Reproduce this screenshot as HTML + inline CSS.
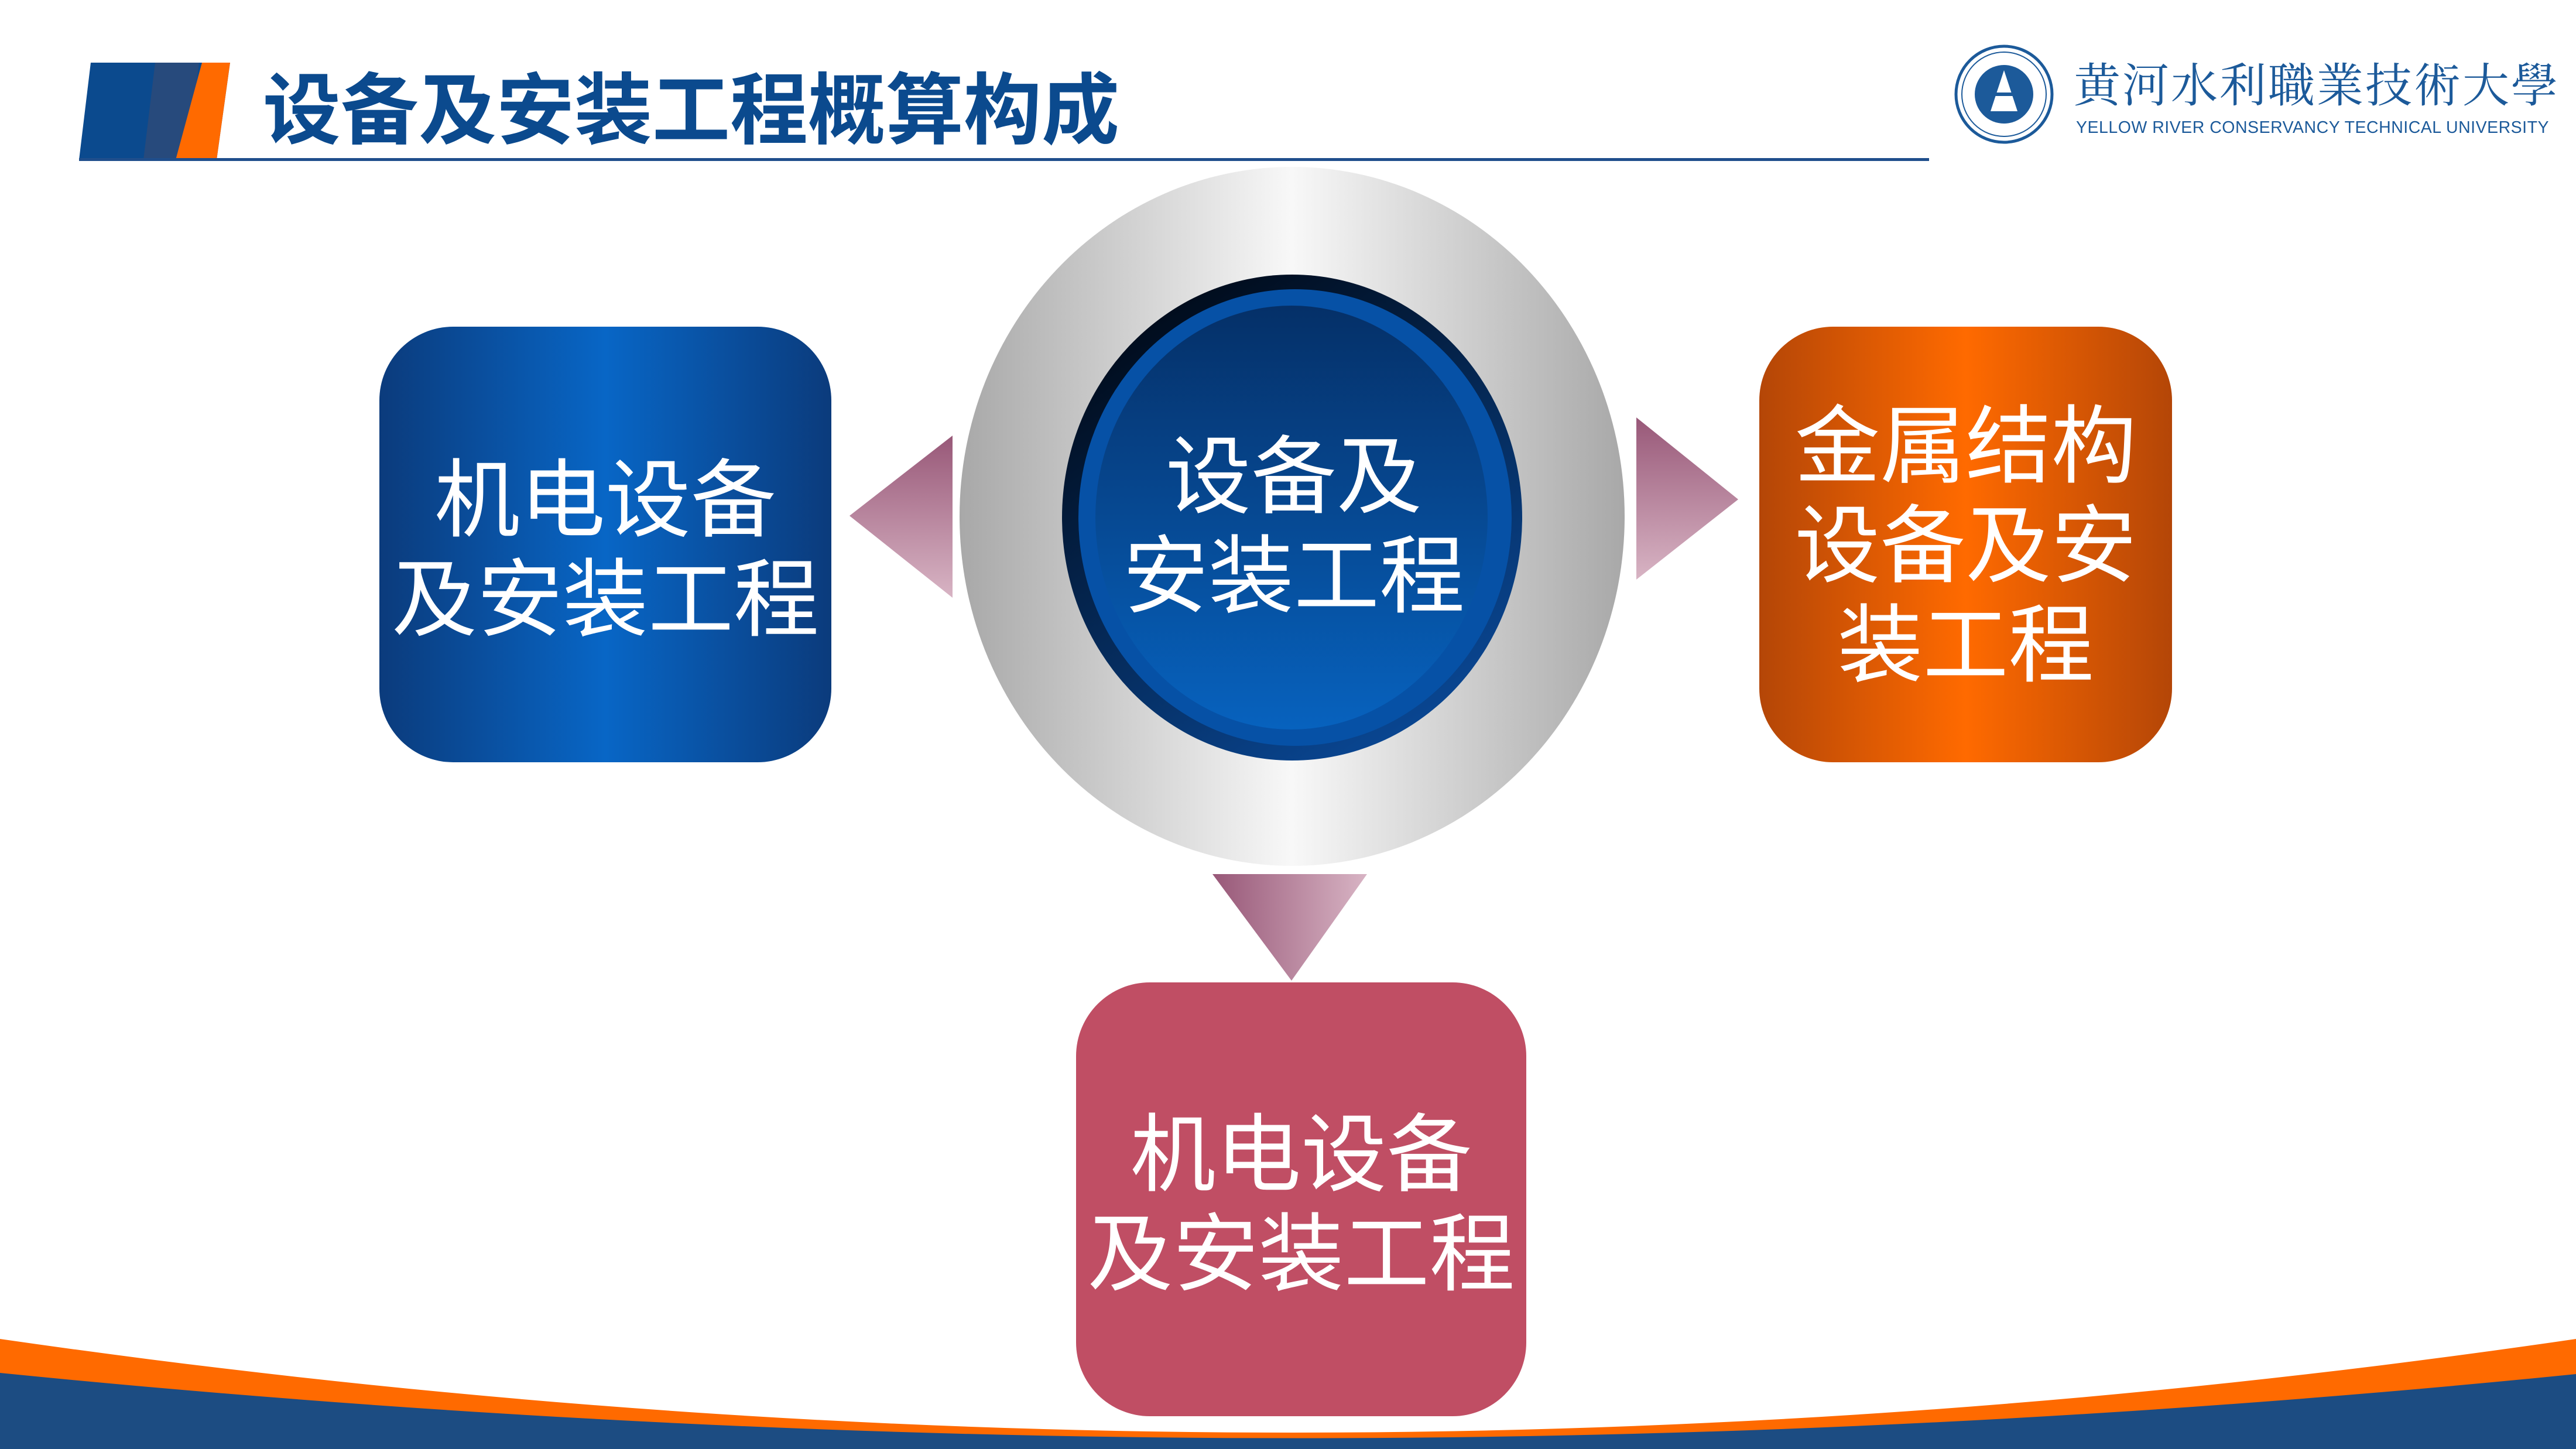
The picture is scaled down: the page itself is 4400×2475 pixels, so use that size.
<!DOCTYPE html>
<html><head><meta charset="utf-8"><style>
html,body{margin:0;padding:0;}
body{width:4400px;height:2475px;position:relative;overflow:hidden;background:#fff;font-family:"Liberation Sans","Noto Sans CJK SC",sans-serif;}
.t{position:absolute;color:#fff;text-align:center;font-family:"Liberation Sans","Noto Sans CJK SC",sans-serif;font-size:146px;line-height:170px;white-space:nowrap;}
</style></head><body>
<svg width="4400" height="2475" style="position:absolute;left:0;top:0">
<defs>
<linearGradient id="gb" x1="0" x2="1" y1="0" y2="0"><stop offset="0" stop-color="#0b3b7c"/><stop offset="0.5" stop-color="#0866c6"/><stop offset="1" stop-color="#0b3b7c"/></linearGradient>
<linearGradient id="go" x1="0" x2="1" y1="0" y2="0"><stop offset="0" stop-color="#b44607"/><stop offset="0.5" stop-color="#ff6a00"/><stop offset="1" stop-color="#b44607"/></linearGradient>
<linearGradient id="gs" x1="0" x2="1" y1="0" y2="0"><stop offset="0" stop-color="#a8a8a8"/><stop offset="0.5" stop-color="#f8f8f8"/><stop offset="1" stop-color="#a8a8a8"/></linearGradient>
<linearGradient id="gd" x1="0.2" x2="0.8" y1="0" y2="1"><stop offset="0" stop-color="#000814"/><stop offset="1" stop-color="#0a4a9a"/></linearGradient>
<linearGradient id="gi" x1="0" x2="0" y1="0" y2="1"><stop offset="0" stop-color="#053068"/><stop offset="1" stop-color="#0762be"/></linearGradient>
<linearGradient id="gtv" x1="0" x2="0" y1="0" y2="1"><stop offset="0" stop-color="#985878"/><stop offset="1" stop-color="#d8b4c4"/></linearGradient>
<linearGradient id="gtd" x1="0" x2="1" y1="0" y2="0"><stop offset="0" stop-color="#985878"/><stop offset="1" stop-color="#d8b4c4"/></linearGradient>
</defs>
<polygon points="155,107 393,107 370,273 135,273" fill="#0b4a8e"/>
<polygon points="265,107 340,107 318,273 245,273" fill="#274a7c"/>
<polygon points="345,107 393,107 370,273 300,273" fill="#ff6a00"/>
<rect x="135" y="270" width="3160" height="5" fill="#1f4e8c"/>
<circle cx="3423" cy="161" r="82" fill="none" stroke="#1c5a9a" stroke-width="5"/>
<circle cx="3423" cy="161" r="72" fill="none" stroke="#1c5a9a" stroke-width="2"/>
<circle cx="3423" cy="161" r="50" fill="#1c5a9a"/>
<polygon points="3423,120 3400,190 3446,190" fill="#fff"/>
<rect x="3395" y="158" width="56" height="6" fill="#1c5a9a"/>
<path d="M0,2287 Q2217,2607 4400,2287 L4400,2475 L0,2475Z" fill="#ff6a00"/>
<path d="M0,2345 Q2217,2567 4400,2347 L4400,2475 L0,2475Z" fill="#1c4c82"/>
<rect x="648" y="558" width="772" height="744" rx="126" fill="url(#gb)"/>
<rect x="3005" y="558" width="705" height="744" rx="126" fill="url(#go)"/>
<rect x="1838" y="1678" width="769" height="741" rx="126" fill="#c04e64"/>
<polygon points="1451,881 1627,744 1627,1021" fill="url(#gtv)"/>
<polygon points="2795,713 2969,853 2795,990" fill="url(#gtv)"/>
<polygon points="2071,1493 2335,1493 2206,1675" fill="url(#gtd)"/>
<ellipse cx="2207" cy="882" rx="568" ry="597" fill="url(#gs)"/>
<ellipse cx="2207" cy="884" rx="393" ry="415" fill="url(#gd)"/>
<ellipse cx="2212" cy="884" rx="370" ry="390" fill="#0651a6"/>
<ellipse cx="2206" cy="884" rx="335" ry="362" fill="url(#gi)"/>
</svg>
<div style="position:absolute;left:449px;top:110px;font-size:133px;font-weight:bold;color:#0b4a8e;line-height:160px;white-space:nowrap;font-family:'Liberation Sans','Noto Sans CJK SC',sans-serif;">设备及安装工程概算构成</div>
<div style="position:absolute;left:3542px;top:90px;font-size:80px;color:#1c5a9a;line-height:100px;white-space:nowrap;font-family:'Noto Serif CJK SC',serif;letter-spacing:3px;">黄河水利職業技術大學</div>
<div style="position:absolute;left:3546px;top:201px;font-size:28.5px;color:#1c5a9a;line-height:34px;white-space:nowrap;letter-spacing:0.5px;">YELLOW RIVER CONSERVANCY TECHNICAL UNIVERSITY</div>
<div class="t" style="left:648px;width:772px;top:770px;">机电设备<br>及安装工程</div>
<div class="t" style="left:1900px;width:620px;top:730px;">设备及<br>安装工程</div>
<div class="t" style="left:3005px;width:705px;top:678px;">金属结构<br>设备及安<br>装工程</div>
<div class="t" style="left:1838px;width:769px;top:1888px;">机电设备<br>及安装工程</div>
</body></html>
